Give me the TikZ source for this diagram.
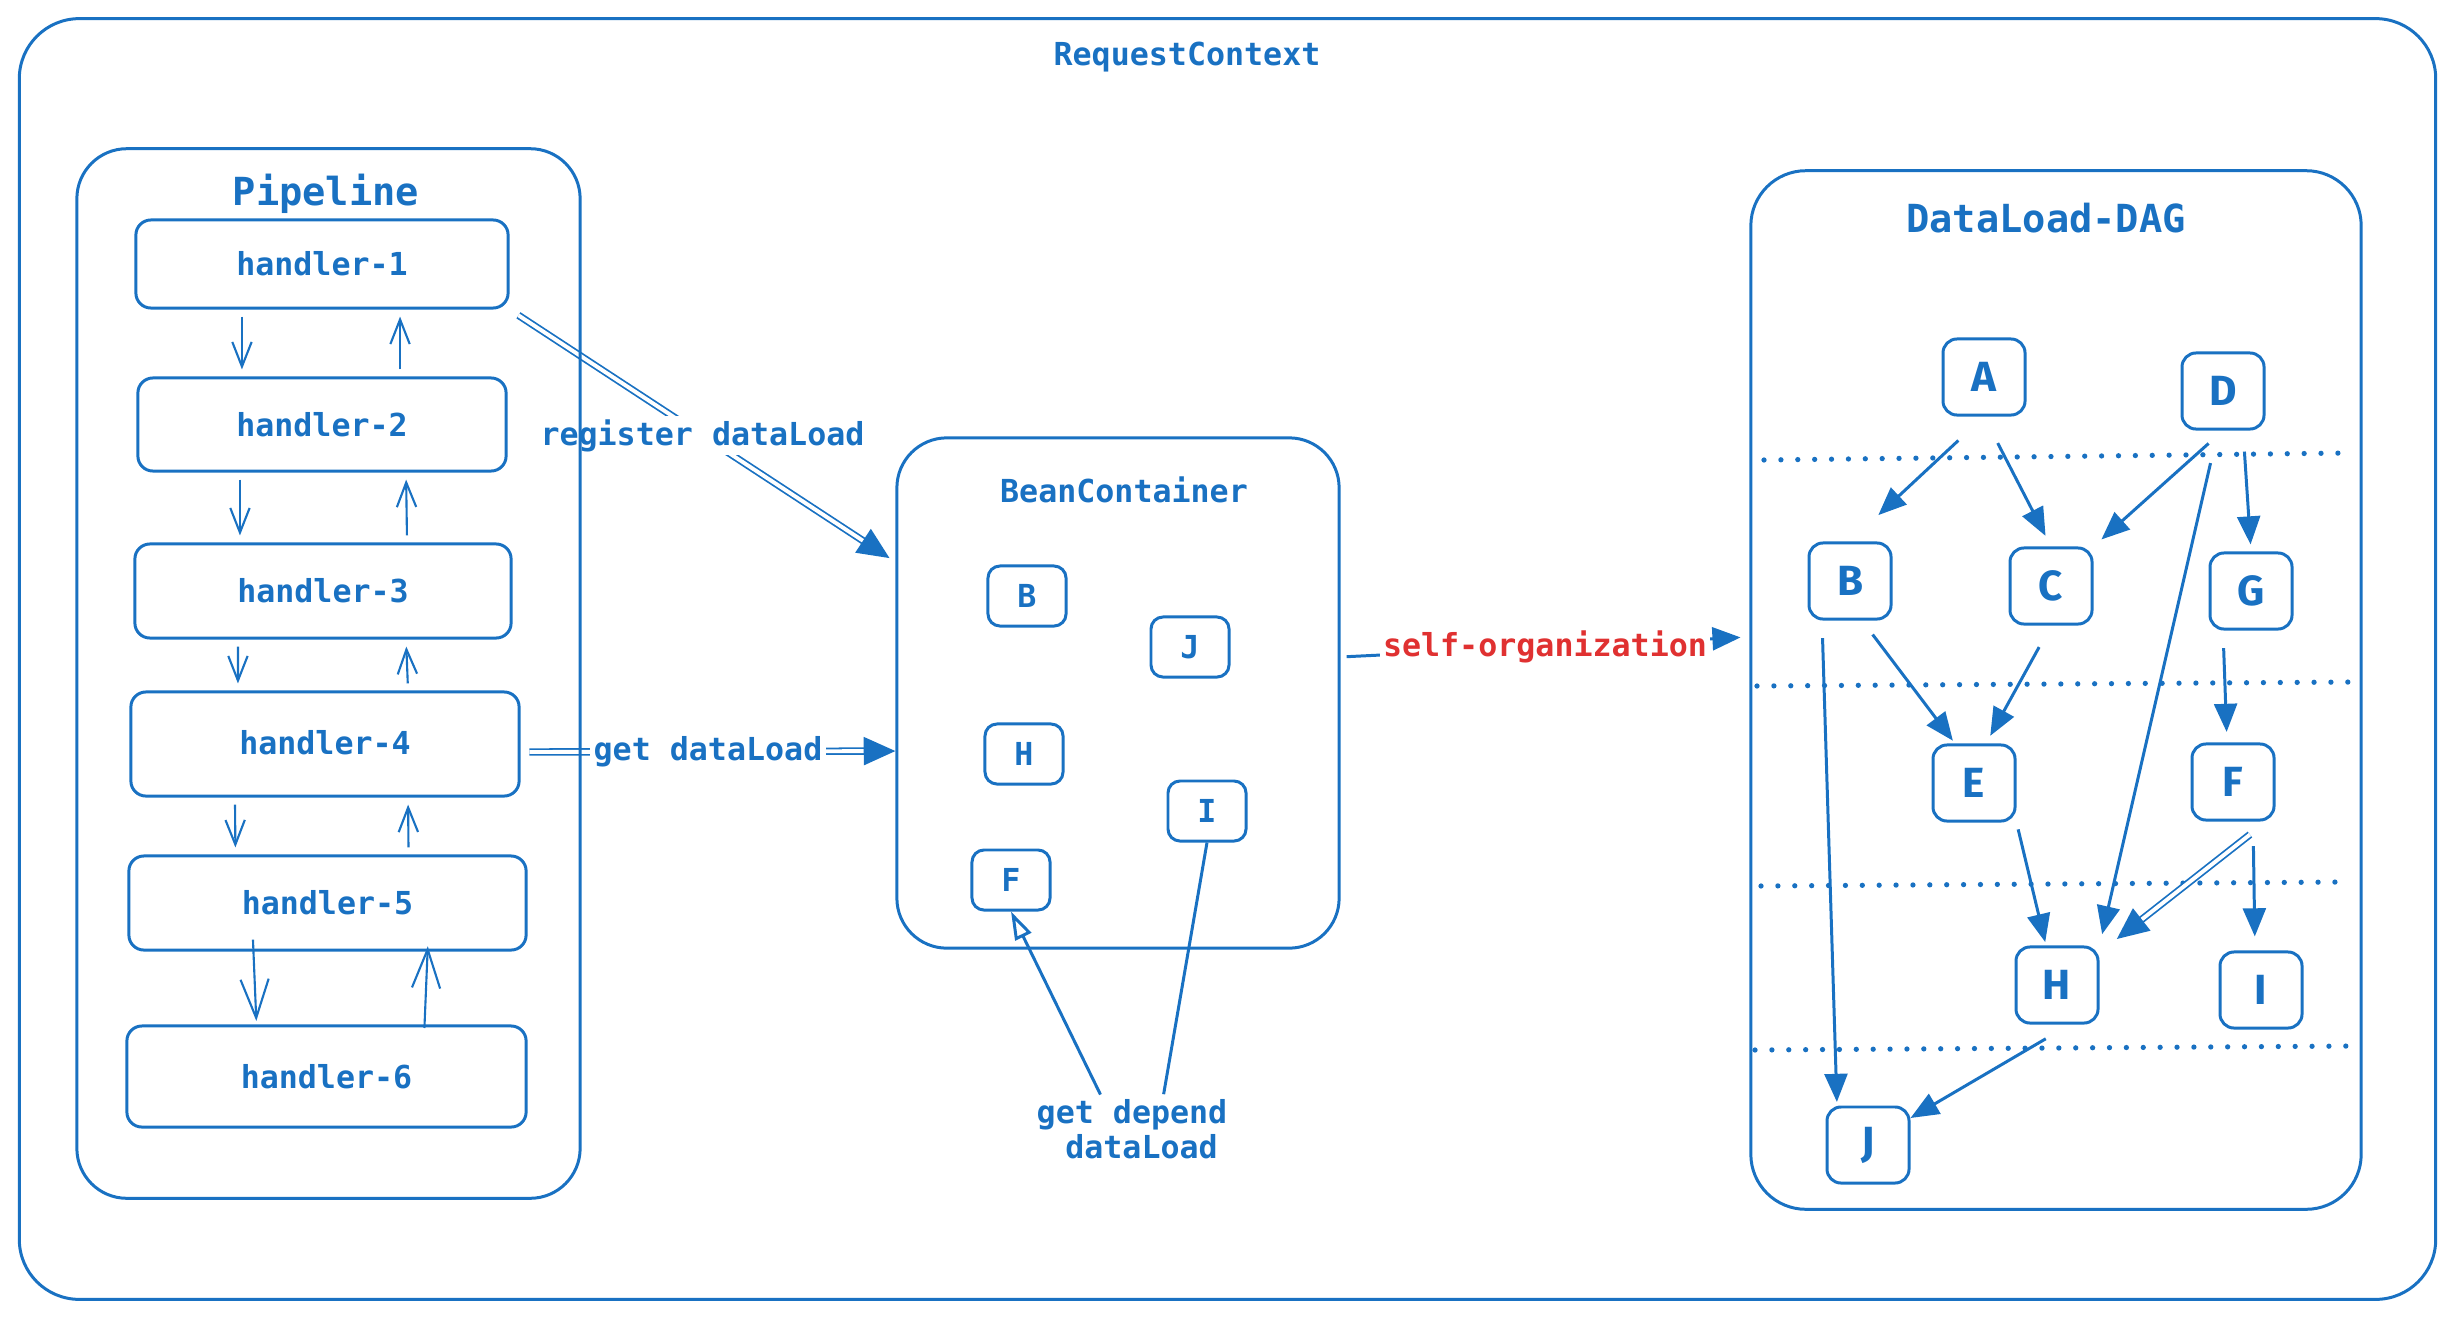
\documentclass[tikz,border=0pt]{standalone}
\usepackage{fontspec}
\setmonofont{DejaVu Sans Mono}
\newfontfamily\letterfont{Fira Sans}
\usetikzlibrary{arrows.meta}
\definecolor{exblue}{HTML}{1971C2}
\definecolor{exred}{HTML}{E03131}

\begin{document}
\begin{tikzpicture}[x=0.01cm, y=-0.01cm, color=exblue, line width=0.85pt,
    font=\ttfamily\bfseries\fontsize{9}{10}\selectfont,
    box/.style={draw, rounded corners=0.5cm, inner sep=0pt},
    handler/.style={draw, rounded corners=0.15cm, inner sep=0pt},
    bean/.style={draw, rounded corners=0.12cm, minimum width=0.78cm, minimum height=0.6cm, inner sep=0pt},
    dagnode/.style={draw, rounded corners=0.14cm, minimum width=0.82cm, minimum height=0.76cm, inner sep=0pt,
        font=\letterfont\bfseries\fontsize{12}{12}\selectfont},
    bigtitle/.style={inner sep=0pt, font=\ttfamily\bfseries\fontsize{11}{13}\selectfont},
    flow/.style={line width=0.6pt, -{Straight Barb[length=7pt, width=5.5pt]}, shorten <=2pt, shorten >=2pt},
    bigflow/.style={line width=0.6pt, -{Straight Barb[length=11pt, width=8pt]}},
    dep/.style={-{Triangle[length=8pt, width=6.5pt]}},
    call/.style={double=white, line width=0.5pt, double distance=1.1pt, -{Triangle[length=9pt, width=8pt]}},
    level/.style={line width=1.5pt, dash pattern=on 0pt off 4.8pt, line cap=round}]

    \useasboundingbox (0,0) rectangle (2455,1318);

    % RequestContext frame
    \node[box, rounded corners=0.6cm, minimum width=24.15cm, minimum height=12.8cm] (ctx) at (1227.5, 659) {};
    \node[inner sep=0pt] (ctxtitle) at (1187, 57) {RequestContext};

    % handlers of the pipeline
    \node[handler, minimum width=3.72cm, minimum height=0.88cm] (h1) at (322, 264) {handler-1};
    \node[handler, minimum width=3.68cm, minimum height=0.93cm] (h2) at (322, 424.5) {handler-2};
    \node[handler, minimum width=3.76cm, minimum height=0.94cm] (h3) at (323, 591) {handler-3};
    \node[handler, minimum width=3.88cm, minimum height=1.04cm] (h4) at (325, 744) {\raisebox{0.8pt}{handler-4}};
    \node[handler, minimum width=3.97cm, minimum height=0.94cm] (h5) at (327.5, 903) {handler-5};
    \node[handler, minimum width=3.99cm, minimum height=1.01cm] (h6) at (326.5, 1076.5) {handler-6};

    % BeanContainer and its dataLoads
    \node[box, minimum width=4.42cm, minimum height=5.1cm] (bean) at (1118, 693) {};
    \node[inner sep=0pt] (beantitle) at (1124, 490) {BeanContainer};
    \node[bean] (bB) at (1027, 596) {B};
    \node[bean] (bJ) at (1190, 647) {J};
    \node[bean] (bH) at (1024, 754) {H};
    \node[bean] (bI) at (1207, 811) {I};
    \node[bean] (bF) at (1011, 880) {F};

    % DataLoad-DAG
    \node[box, rounded corners=0.55cm, minimum width=6.1cm, minimum height=10.38cm] (dag) at (2056, 690) {};
    \node[bigtitle] (dagtitle) at (2046, 218) {DataLoad-DAG};
    \node[dagnode] (A) at (1984, 377) {A};
    \node[dagnode] (D) at (2223, 391) {D};
    \node[dagnode] (B) at (1850, 581) {B};
    \node[dagnode] (C) at (2051, 586) {C};
    \node[dagnode] (G) at (2251, 591) {G};
    \node[dagnode] (E) at (1974, 783) {E};
    \node[dagnode] (F) at (2233, 782) {F};
    \node[dagnode] (H) at (2057, 985) {H};
    \node[dagnode] (I) at (2261, 990) {I};
    \node[dagnode] (J) at (1868, 1145) {J};

    % levels of the DAG
    \draw[level] (1764, 460) -- (2347, 453);
    \draw[level] (1757, 686) -- (2355, 682);
    \draw[level] (1761, 886) -- (2343, 882);
    \draw[level] (1755, 1050) -- (2355, 1046);

    % dependencies
    \draw[dep, shorten <=10pt, shorten >=11pt] (A.south) -- (B.north);
    \draw[dep, shorten <=8.5pt, shorten >=3.4pt] (A.south) -- (C.north);
    \draw[dep, shorten <=5.5pt, shorten >=3pt] (D.south) -- (C.north east);
    \draw[dep, shorten <=6pt, shorten >=2pt] ([xshift=0.2cm]D.south) -- (G.north);
    \draw[dep, shorten <=9.5pt, shorten >=3.3pt] ([xshift=-0.05cm]D.south) -- (H.north east);
    \draw[dep, shorten <=5pt, shorten >=1pt] ([xshift=-0.28cm]B.south) -- ([xshift=-0.31cm]J.north);
    \draw[dep, shorten <=5pt, shorten >=1pt] ([xshift=0.12cm]B.south) -- ([xshift=-0.19cm]E.north);
    \draw[dep, shorten <=7pt, shorten >=2.5pt] (C.south) -- ([xshift=0.12cm]E.north);
    \draw[dep, shorten <=5pt, shorten >=3pt] ([xshift=-0.28cm]G.south) -- ([xshift=-0.06cm]F.north);
    \draw[dep, shorten <=2pt, shorten >=1pt] (E.south east) -- ([xshift=-0.11cm]H.north);
    \draw[call, shorten <=6pt, shorten >=3pt] ([xshift=-0.09cm]F.south east) -- ([xshift=0.09cm]H.north east);
    \draw[dep, shorten <=7pt, shorten >=4pt] ([xshift=0.2cm]F.south) -- ([xshift=-0.06cm]I.north);
    \draw[dep, shorten <=8pt] ([xshift=0.13cm]H.south) -- ([yshift=0.27cm]J.east);

    % calls down and back up the pipeline
    \draw[flow] ([xshift=-0.8cm]h1.south) -- ([xshift=-0.8cm]h2.north);
    \draw[flow] ([xshift=0.78cm]h2.north) -- ([xshift=0.78cm]h1.south);
    \draw[flow] ([xshift=-0.82cm]h2.south) -- ([xshift=-0.83cm]h3.north);
    \draw[flow] ([xshift=0.84cm]h3.north) -- ([xshift=0.84cm]h2.south);
    \draw[flow] ([xshift=-0.85cm]h3.south) -- ([xshift=-0.87cm]h4.north);
    \draw[flow] ([xshift=0.83cm]h4.north) -- ([xshift=0.83cm]h3.south);
    \draw[flow] ([xshift=-0.9cm]h4.south) -- ([xshift=-0.92cm]h5.north);
    \draw[flow] ([xshift=0.81cm]h5.north) -- ([xshift=0.83cm]h4.south);
    \draw[bigflow, shorten <=-3.4pt, shorten >=1pt] ([xshift=-0.74cm]h5.south) -- ([xshift=-0.7cm]h6.north);
    \draw[bigflow, shorten <=-1pt, shorten >=-1.5pt] ([xshift=0.98cm]h6.north) -- ([xshift=1cm]h5.south);

    % handlers and the container
    \draw[call, shorten <=3pt, shorten >=2pt] (h1.south east) -- node[midway, fill=white, inner sep=1pt] {register dataLoad} ([yshift=1.31cm]bean.west);
    \draw[call, shorten <=2.5pt] ([yshift=-0.08cm]h4.east) -- node[midway, fill=white, inner sep=1pt] {get dataLoad} ([yshift=-0.58cm]bean.west);
    \draw[dep, shorten <=1.7pt, shorten >=2.5pt] ([yshift=0.36cm]bean.east) -- node[midway, fill=white, inner sep=1pt, text=exred] {self-organization} ([yshift=0.53cm]dag.west);

    % Pipeline frame, drawn over the label
    \node[box, minimum width=5.03cm, minimum height=10.49cm] (pipe) at (328.5, 673.5) {};
    \node[bigtitle] (pipetitle) at (326, 194) {Pipeline};

    % get depend dataLoad
    \node[inner sep=0pt, align=center] (getdep) at (1132, 1129) {get depend\\\hphantom{x}dataLoad};
    \draw[-{Triangle[open, length=8pt, width=5pt]}, shorten <=1pt] ([xshift=-0.3cm]getdep.north) -- (bF.south);
    \draw[shorten >=1pt] (bI.south) -- ([xshift=0.31cm]getdep.north);
\end{tikzpicture}
\end{document}
